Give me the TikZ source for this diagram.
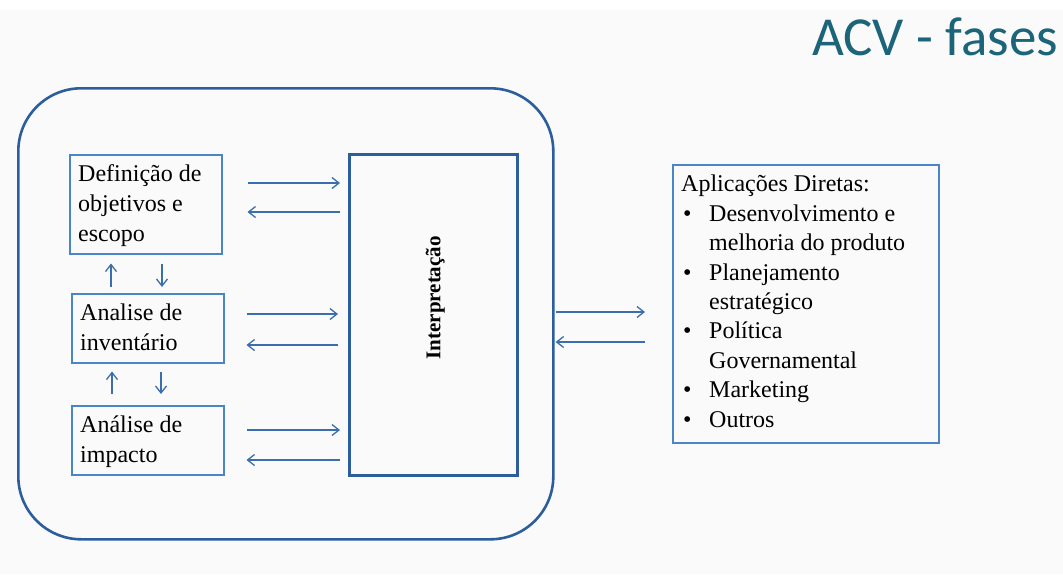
\documentclass[tikz,border=0pt]{standalone}
\usepackage{fontspec}
\setmainfont{Liberation Serif}
\newfontfamily\titlefont{Carlito}
\usetikzlibrary{arrows.meta,calc}
\definecolor{outerblue}{HTML}{2C5E9E}
\definecolor{boxblue}{HTML}{4A86C6}
\definecolor{arrowblue}{HTML}{3A6EAE}
\definecolor{titleteal}{HTML}{1B6479}
\definecolor{paper}{HTML}{FAFAFA}
\begin{document}
\begin{tikzpicture}[x=1pt,y=-1pt,
  frame/.style={draw=outerblue,line width=2.6pt},
  stagebox/.style={draw=boxblue,line width=1.5pt,anchor=north west,inner sep=0pt},
  boxtext/.style={anchor=base west,align=left,font=\fontsize{24}{30}\selectfont,inner sep=0pt},
  flow/.style={draw=arrowblue,line width=1.3pt,-{Straight Barb[length=7pt,width=11pt]}}]

% page
\fill[paper] (0,0) rectangle (1063,574);
\fill[white] (0,0) rectangle (1063,10);
\useasboundingbox (0,0) rectangle (1063,574);

% title
\node[anchor=base west,inner sep=0pt,text=titleteal,font=\titlefont\fontsize{55}{60}\selectfont] (title) at (812,55) {ACV - fases};

% outer frame holding the LCA phases
\node[frame,rounded corners=63pt,anchor=north west,minimum width=535pt,minimum height=451pt,inner sep=0pt] (outer) at (17,87) {};

% phase boxes (text nodes are anchored on the baseline of their last line)
\node[stagebox,minimum width=152pt,minimum height=99pt] (def) at (69,154) {};
\node[stagebox,minimum width=152pt,minimum height=69pt] (inv) at (71,293) {};
\node[stagebox,minimum width=152pt,minimum height=69pt] (imp) at (71,405) {};
\node[boxtext] (deft) at (78,241) {Definição de\\objetivos e\\escopo};
\node[boxtext] (invt) at (80,350) {Analise de\\inventário};
\node[boxtext] (impt) at (80,462) {Análise de\\impacto};

% interpretation
\node[frame,anchor=north west,minimum width=168pt,minimum height=321pt,inner sep=0pt] (interp) at (348,153) {};
\node[rotate=90,inner sep=0pt,font=\bfseries\fontsize{21}{25}\selectfont] (interpt) at ($(interp.center)+(2,-17)$) {Interpretação};

% applications
\node[stagebox,minimum width=266pt,minimum height=278pt] (apl) at (672,164) {};
\node[boxtext,font=\fontsize{24}{29.4}\selectfont] (aplt) at (681,427) {Aplicações Diretas:\\
\makebox[28pt][l]{\hspace{2pt}\textbullet}Desenvolvimento e\\
\hspace*{28pt}melhoria do produto\\
\makebox[28pt][l]{\hspace{2pt}\textbullet}Planejamento\\
\hspace*{28pt}estratégico\\
\makebox[28pt][l]{\hspace{2pt}\textbullet}Política\\
\hspace*{28pt}Governamental\\
\makebox[28pt][l]{\hspace{2pt}\textbullet}Marketing\\
\makebox[28pt][l]{\hspace{2pt}\textbullet}Outros};

% phases <-> interpretation
\draw[flow,shorten <=25pt,shorten >=8pt] (def.east |- 0,183) -- (interp.west |- 0,183);
\draw[flow,shorten <=8pt,shorten >=25pt] (interp.west |- 0,212) -- (def.east |- 0,212);
\draw[flow,shorten <=22pt,shorten >=10pt] (inv.east |- 0,314) -- (interp.west |- 0,314);
\draw[flow,shorten <=10pt,shorten >=22pt] (interp.west |- 0,345) -- (inv.east |- 0,345);
\draw[flow,shorten <=22pt,shorten >=8pt] (imp.east |- 0,430) -- (interp.west |- 0,430);
\draw[flow,shorten <=8pt,shorten >=22pt] (interp.west |- 0,460) -- (imp.east |- 0,460);

% between phases
\draw[flow,shorten <=6pt,shorten >=9pt] (inv.north -| 111,0) -- (def.south -| 111,0);
\draw[flow,shorten <=9pt,shorten >=6pt] (def.south -| 162,0) -- (inv.north -| 162,0);
\draw[flow,shorten <=11pt,shorten >=8pt] (imp.north -| 112,0) -- (inv.south -| 112,0);
\draw[flow,shorten <=8pt,shorten >=11pt] (inv.south -| 161,0) -- (imp.north -| 161,0);

% frame <-> applications
\draw[flow,shorten <=1pt,shorten >=27pt] (outer.east |- 0,312) -- (apl.west |- 0,312);
\draw[flow,shorten <=27pt,shorten >=1pt] (apl.west |- 0,342) -- (outer.east |- 0,342);
\end{tikzpicture}
\end{document}
